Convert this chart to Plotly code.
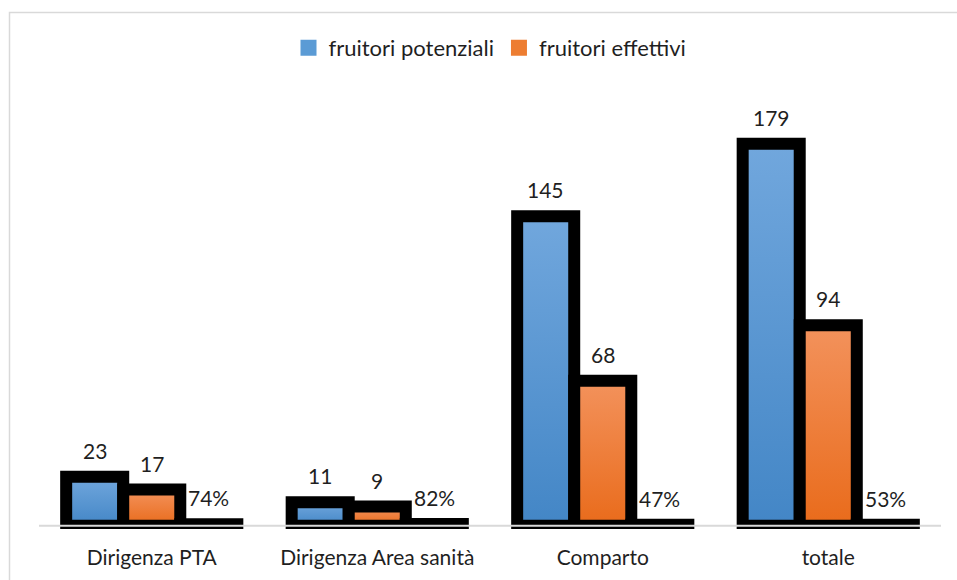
import plotly.graph_objects as go

categories = ["Dirigenza PTA", "Dirigenza Area sanità", "Comparto", "totale"]
potenziali = [23, 11, 145, 179]
effettivi = [17, 9, 68, 94]
percentuale = [0.74, 0.82, 0.47, 0.53]

pot_labels = [str(v) for v in potenziali]
eff_labels = [str(v) for v in effettivi]
pct_labels = [f"{round(v*100)}%" for v in percentuale]

BLUE = "#5b9bd5"
ORANGE = "#ed7d31"
FONT = "Lato"
TXT = "#1f1f1f"

W, H = 957, 580
ML, MR, MT, MB = 39, 16, 99, 51
LW = 12

fig = go.Figure()
fig.add_bar(x=categories, y=potenziali, name="fruitori potenziali",
            marker=dict(color=BLUE, line=dict(color="black", width=LW)),
            showlegend=False, hoverinfo="skip")
fig.add_bar(x=categories, y=effettivi, name="fruitori effettivi",
            marker=dict(color=ORANGE, line=dict(color="black", width=LW)),
            showlegend=False, hoverinfo="skip")
fig.add_bar(x=categories, y=percentuale, name="percentuale",
            marker=dict(color="white", line=dict(color="black", width=LW)),
            showlegend=False, hoverinfo="skip")

# legend-only entries
for nm, col in [("fruitori potenziali", BLUE), ("fruitori effettivi", ORANGE)]:
    fig.add_scatter(x=[None], y=[None], mode="markers", name=nm,
                    marker=dict(symbol="square", size=16, color=col))

plot_w = W - ML - MR
bargap = 0.241
slot = plot_w / len(categories) * (1 - bargap) / 3

ann = []
for k, (vals, labs) in enumerate([(potenziali, pot_labels), (effettivi, eff_labels),
                                   (percentuale, pct_labels)]):
    for c, v, t in zip(categories, vals, labs):
        ann.append(dict(x=c, y=v, xref="x", yref="y", text=t, showarrow=False,
                        xshift=(k - 1) * slot, yshift=12, yanchor="bottom",
                        font=dict(family=FONT, size=21, color=TXT)))

plot_h = H - MT - MB
def px_to_paper_x(px):
    return (px - ML) / plot_w
def px_to_paper_y(py):
    return (H - MB - py) / plot_h

shapes = [
    dict(type="rect", xref="paper", yref="paper",
         x0=px_to_paper_x(9.5), x1=px_to_paper_x(990), y0=px_to_paper_y(620), y1=px_to_paper_y(12.5),
         line=dict(color="#d9d9d9", width=1.5), layer="below"),
    dict(type="line", xref="paper", yref="y", x0=0, x1=1, y0=0, y1=0,
         line=dict(color="#d9d9d9", width=2), layer="above"),
]

fig.update_layout(
    width=W, height=H,
    margin=dict(l=ML, r=MR, t=MT, b=MB),
    paper_bgcolor="white", plot_bgcolor="white",
    barmode="group", bargap=bargap, bargroupgap=0,
    font=dict(family=FONT, size=21, color=TXT),
    legend=dict(orientation="h", x=0.5, xanchor="center", y=px_to_paper_y(48),
                yanchor="middle", font=dict(family=FONT, size=22, color=TXT),
                itemclick=False, itemdoubleclick=False, tracegroupgap=0),
    annotations=ann,
    shapes=shapes,
    xaxis=dict(showgrid=False, showline=False, ticks="", zeroline=False,
               ticklabelstandoff=14,
               tickfont=dict(family=FONT, size=21, color=TXT)),
    yaxis=dict(range=[-1.5, 200], visible=False, showgrid=False, zeroline=False),
)

post = """
document.body.style.margin = '0';
document.body.style.overflow = 'hidden';
var gd = document.getElementById('{plot_id}');
function grad(){
  var svg = gd.querySelector('svg.main-svg');
  var defs = svg.querySelector('defs');
  var ns = 'http://www.w3.org/2000/svg';
  function mk(id, c1, c2){
    if (svg.querySelector('#'+id)) return;
    var g = document.createElementNS(ns, 'linearGradient');
    g.setAttribute('id', id); g.setAttribute('x1','0'); g.setAttribute('y1','0');
    g.setAttribute('x2','0'); g.setAttribute('y2','1');
    [[0,c1],[1,c2]].forEach(function(s){
      var st = document.createElementNS(ns, 'stop');
      st.setAttribute('offset', s[0]); st.setAttribute('stop-color', s[1]);
      g.appendChild(st);
    });
    defs.appendChild(g);
  }
  mk('gblue', '#71a7dd', '#4386c6');
  mk('gorange', '#f3925c', '#e96b1b');
  var traces = gd.querySelectorAll('g.barlayer g.trace');
  var ids = ['gblue','gorange'];
  for (var i=0;i<2 && i<traces.length;i++){
    traces[i].querySelectorAll('path').forEach(function(p){ p.style.fill = 'url(#'+ids[i]+')'; });
  }
}
grad();
gd.on('plotly_afterplot', grad);
"""

fig.write_html("out.html", post_script=post, config={"displayModeBar": False})
